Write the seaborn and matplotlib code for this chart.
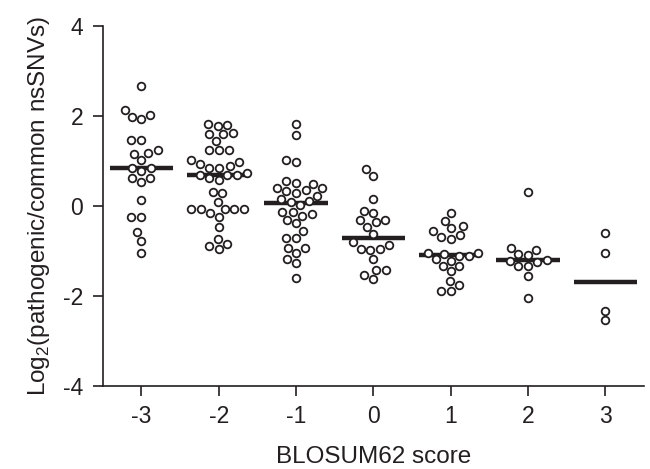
import matplotlib
matplotlib.use("Agg")
import matplotlib.pyplot as plt
import numpy as np
import pandas as pd
import seaborn as sns

# log2(pathogenic/common nsSNVs) per amino-acid substitution, grouped by BLOSUM62 score
scores = ["-3", "-2", "-1", "0", "1", "2", "3"]

score_m3 = [2.66, 2.13, 2.02, 1.98, 1.93, 1.46, 1.46, 1.24, 1.18, 1.16, 1.03, 0.85,
            0.85, 0.78, 0.63, 0.61, 0.53, 0.14, -0.24, -0.24, -0.59, -0.78, -1.04]
score_m2 = [1.81, 1.79, 1.77, 1.61, 1.59, 1.59, 1.44, 1.24, 1.24, 1.24, 1.02, 0.98,
            0.93, 0.88, 0.85, 0.85, 0.74, 0.68, 0.68, 0.68, 0.61, 0.57, 0.31, 0.28,
            0.09, -0.06, -0.07, -0.07, -0.07, -0.07, -0.15, -0.24, -0.48, -0.73,
            -0.84, -0.90, -0.97]
score_m1 = [1.83, 1.57, 1.03, 0.98, 0.55, 0.51, 0.48, 0.40, 0.39, 0.35, 0.33, 0.29,
            0.22, 0.15, 0.11, 0.09, 0.02, -0.13, -0.13, -0.19, -0.22, -0.32, -0.39,
            -0.56, -0.71, -0.71, -0.93, -0.93, -1.04, -1.18, -1.26, -1.61]
score_0 = [0.81, 0.66, 0.15, -0.11, -0.15, -0.32, -0.32, -0.37, -0.47, -0.63, -0.81,
           -0.87, -0.95, -0.97, -0.98, -1.18, -1.43, -1.43, -1.54, -1.63]
score_1 = [-0.17, -0.33, -0.45, -0.50, -0.56, -0.65, -0.69, -0.74, -1.04, -1.04, -1.06,
           -1.11, -1.11, -1.18, -1.22, -1.33, -1.33, -1.45, -1.67, -1.76, -1.89, -1.89]
score_2 = [0.30, -0.93, -0.98, -1.07, -1.10, -1.21, -1.22, -1.24, -1.33, -1.34, -1.56, -2.04]
score_3 = [-0.60, -1.05, -2.33, -2.54]

y_ticks = [-4, -2, 0, 2, 4]

groups = [score_m3, score_m2, score_m1, score_0, score_1, score_2, score_3]
df = pd.concat(
    [pd.DataFrame({"score": s, "log2_ratio": vals}) for s, vals in zip(scores, groups)],
    ignore_index=True,
)
medians = df.groupby("score", sort=False)["log2_ratio"].median().reindex(scores)

ink = "#231f20"
sns.set_style("ticks")
plt.rcParams["font.family"] = ["Liberation Sans", "DejaVu Sans"]
plt.rcParams["mathtext.fontset"] = "custom"
plt.rcParams["mathtext.rm"] = "Liberation Sans"

fig = plt.figure(figsize=(6.5, 4.69), dpi=100)
ax = fig.add_axes([0.158, 0.1776, 0.833, 0.767])

pos = np.arange(len(scores))
ax.hlines(medians.values, pos - 0.41, pos + 0.41, color=ink, linewidth=3.2, zorder=1)

sns.swarmplot(data=df, x="score", y="log2_ratio", order=scores, color="white",
              edgecolor=ink, linewidth=1.3, size=5.5, ax=ax, zorder=3)

ax.set_xlim(-0.5, len(scores) - 0.5)
ax.set_ylim(-4, 4)
ax.set_yticks(y_ticks)
ax.set_yticklabels([str(t) for t in y_ticks])
ax.set_xlabel("BLOSUM62 score", fontsize=17.5, color=ink, labelpad=13)
ax.set_ylabel("Log$_\\mathregular{2}$(pathogenic/common nsSNVs)", fontsize=17.5,
              color=ink, labelpad=8)
ax.tick_params(axis="both", labelsize=16.5, colors=ink, length=7, width=1.2, pad=7)
for side in ["left", "bottom"]:
    ax.spines[side].set_color(ink)
    ax.spines[side].set_linewidth(1.2)
sns.despine(ax=ax)

fig.savefig("out.png", dpi=100)
plt.close(fig)
